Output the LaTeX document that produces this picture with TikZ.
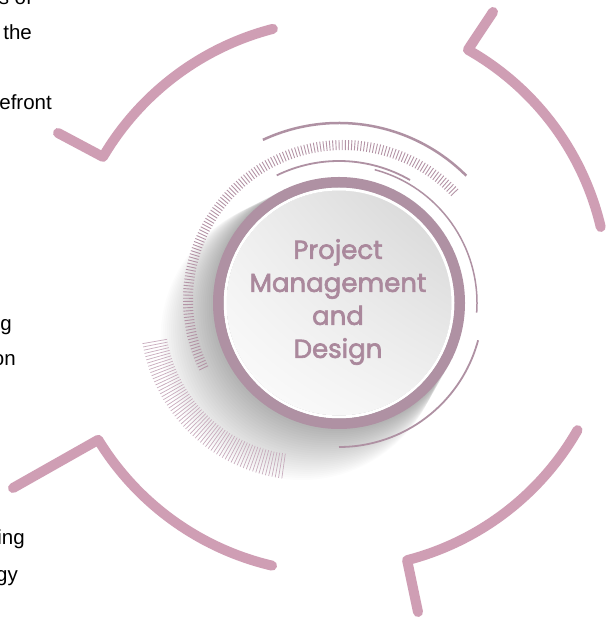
\documentclass[tikz,border=0pt]{standalone}
\usepackage{fontspec}
\setmainfont{Liberation Sans}
\newfontfamily\titlefont{Poppins}[FakeBold=2.4]
\usetikzlibrary{calc,shadings}
\definecolor{petal}{RGB}{207,158,180}
\definecolor{mauve}{RGB}{175,145,163}
\definecolor{titlecol}{RGB}{170,136,156}
\definecolor{tickcol}{RGB}{180,148,166}
\definecolor{fancol}{RGB}{200,172,189}
\definecolor{discUL}{RGB}{238,238,238}
\definecolor{discUR}{RGB}{212,212,212}
\definecolor{discLL}{RGB}{253,253,253}
\definecolor{discLR}{RGB}{242,242,242}
\begin{document}
\begin{tikzpicture}[x=1pt,y=1pt,
  petalarc/.style={draw=petal, line width=10pt, line cap=round, line join=round},
  thinarc/.style={draw=mauve, line cap=butt},
  ringtick/.style={draw=tickcol, line width=0.9pt},
  fantick/.style={draw=fancol, line width=0.7pt},
  sidetext/.style={anchor=base east, inner sep=0pt, font=\fontsize{20.5}{24}\selectfont, text=black},
  title/.style={font=\titlefont\fontsize{26}{33}\selectfont, text=titlecol, align=center, inner sep=0pt}
]
\useasboundingbox (0,0) rectangle (605,618);
\fill[white] (0,0) rectangle (605,618);

% centres
\coordinate (C) at (339,315);
\coordinate (T) at (343,318);
\coordinate (F) at (305,303);
\coordinate (tlO) at (342.5,320);
\coordinate (trO) at (332,328);
\coordinate (brO) at (338,325);
\coordinate (blO) at (335.5,323);

% hook ends of the four outer strokes
\coordinate (tlHook) at (58,485);
\coordinate (trHook) at (493,606);
\coordinate (brHook) at (418,6);
\coordinate (blHook) at (13,130);

% outer hooked strokes
\draw[petalarc] (tlHook) -- ($(tlO)+(149.5:278)$) arc[start angle=149.5, end angle=104.5, radius=278];
\draw[petalarc] (trHook) -- ($(trO)+(60.5:276)$) arc[start angle=60.5, end angle=13.2, radius=276];
\draw[petalarc] (brHook) -- ($(brO)+(-75.5:276)$) arc[start angle=-75.5, end angle=-29.8, radius=276];
\draw[petalarc] (blHook) -- ($(blO)+(211.4:278)$) arc[start angle=211.4, end angle=256.8, radius=278];

% cast shadow of the disc, thrown to the lower left
\foreach \k in {0,2,...,50}
  \fill[black, opacity=0.011] ($(C)+(-0.75*\k,-0.72*\k)$) circle ({126+0.3*\k});

% fan of fine ticks, lower left
\foreach \i in {0,...,62} {
  \pgfmathsetmacro\a{190+\i*1.16}
  \draw[fantick] ($(F)+(\a:140)$) -- ($(F)+(\a:165)$);
}

% ring of ticks
\foreach \i in {0,...,140} {
  \pgfmathsetmacro\a{44+\i*1.157}
  \draw[ringtick] ($(T)+(\a:150)$) -- ($(T)+(\a:160)$);
}

% thin arcs
\draw[thinarc, line width=2.5pt] ($(C)+(115:180)$) arc[start angle=115, end angle=45, radius=180];
\draw[thinarc, line width=1.8pt] ($(C)+(116:142)$) arc[start angle=116, end angle=60, radius=142];
\draw[thinarc, line width=1.5pt] ($(C)+(75:138)$) arc[start angle=75, end angle=-4, radius=138];
\draw[thinarc, line width=1.8pt] ($(C)+(-15:144)$) arc[start angle=-15, end angle=-90, radius=144];

% disc and ring
\shade[upper left=discUL, upper right=discUR, lower left=discLL, lower right=discLR]
  (C) circle (112.5);
\draw[white, line width=3pt] (C) circle (114);
\draw[mauve, line width=10.5pt] (C) circle (120.75);

\node[title] (core) at (338,316) {Project\\Management\\and\\Design};

% text running in from the left margin
\node[sidetext] (t1) at (32,613) {s of};
\node[sidetext] (t2) at (32,578.7) {the};
\node[sidetext] (t3) at (52,508) {efront};
\node[sidetext] (t4) at (12,287) {g};
\node[sidetext] (t5) at (16,252) {on};
\node[sidetext] (t6) at (25,73) {ing};
\node[sidetext] (t7) at (18,36) {gy};
\end{tikzpicture}
\end{document}
